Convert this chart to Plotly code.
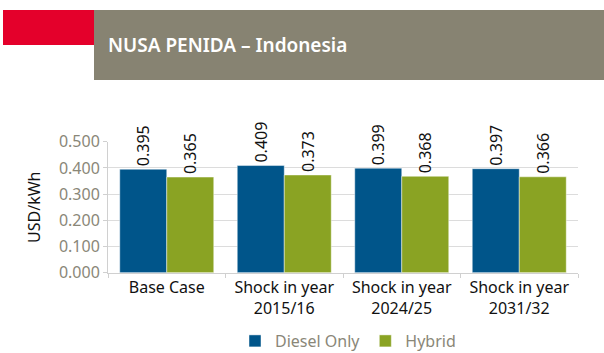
import plotly.graph_objects as go

# Levelised cost of electricity, Nusa Penida (USD/kWh)
categories = ["Base Case", "Shock in year<br>2015/16", "Shock in year<br>2024/25", "Shock in year<br>2031/32"]
diesel_only = [0.395, 0.409, 0.399, 0.397]
hybrid = [0.365, 0.373, 0.368, 0.366]
y_ticks = [0.0, 0.1, 0.2, 0.3, 0.4, 0.5]
y_tick_labels = ["0.000", "0.100", "0.200", "0.300", "0.400", "0.500"]

BLUE = "#00558a"
GREEN = "#8aa323"
GREY_TEXT = "#8a8778"
FONT = "Noto Sans"

W, H = 604, 353

def fx(x):
    # pixel column -> paper fraction
    return x / W

def fy(y):
    # pixel row (from top) -> paper fraction
    return (H - y) / H

fig = go.Figure()
for name, vals, col in [("Diesel Only", diesel_only, BLUE), ("Hybrid", hybrid, GREEN)]:
    fig.add_trace(go.Bar(
        name=name, x=categories, y=vals,
        marker=dict(color=col, line=dict(color="rgba(255,255,255,0.45)", width=1)),
        text=[f"{v:.3f}" for v in vals], textposition="outside", textangle=-90,
        textfont=dict(family=FONT, size=16, color="#111111"),
        cliponaxis=False,
    ))

shapes = [
    dict(type="rect", xref="paper", yref="paper", x0=fx(3), x1=fx(94), y0=fy(45), y1=fy(10),
         fillcolor="#e4002b", line=dict(width=0), layer="below"),
    dict(type="rect", xref="paper", yref="paper", x0=fx(94), x1=fx(604), y0=fy(80), y1=fy(10),
         fillcolor="#878372", line=dict(width=0), layer="below"),
]

fig.update_layout(
    width=W, height=H,
    margin=dict(l=0, r=0, t=0, b=0, pad=0, autoexpand=False),
    paper_bgcolor="white", plot_bgcolor="white",
    barmode="group", bargap=0.2, bargroupgap=0,
    font=dict(family=FONT, size=16, color="#111111"),
    shapes=shapes,
    annotations=[dict(
        text="NUSA PENIDA – Indonesia", xref="paper", yref="paper",
        x=fx(106), y=fy(45), xanchor="left", yanchor="middle", showarrow=False,
        font=dict(family=FONT, size=19, color="white", weight=600),
    )],
    showlegend=True,
    legend=dict(orientation="h", x=fx(348), xanchor="center",
                y=fy(341), yanchor="middle",
                font=dict(family=FONT, size=16, color=GREY_TEXT),
                itemwidth=30, traceorder="normal"),
    yaxis=dict(
        domain=[fy(272.7), fy(141.7)], automargin=False,
        range=[0, 0.5], tickvals=y_ticks, ticktext=y_tick_labels,
        tickfont=dict(family=FONT, size=16, color=GREY_TEXT),
        showgrid=True, gridcolor="#dcdcdc", gridwidth=1,
        showline=True, linecolor="#d0d0d0", linewidth=1,
        ticks="outside", ticklen=4, tickcolor="#d0d0d0",
        zeroline=False,
        title=dict(text="USD/kWh", font=dict(family=FONT, size=16, color="#111111"), standoff=14),
    ),
    xaxis=dict(
        domain=[fx(108), fx(578)], automargin=False,
        tickfont=dict(family=FONT, size=16, color="#111111"),
        showline=True, linecolor="#d0d0d0", linewidth=1,
        ticks="outside", ticklen=4, tickcolor="#d0d0d0",
        tickson="boundaries",
    ),
)

fig.write_html("out.html")
